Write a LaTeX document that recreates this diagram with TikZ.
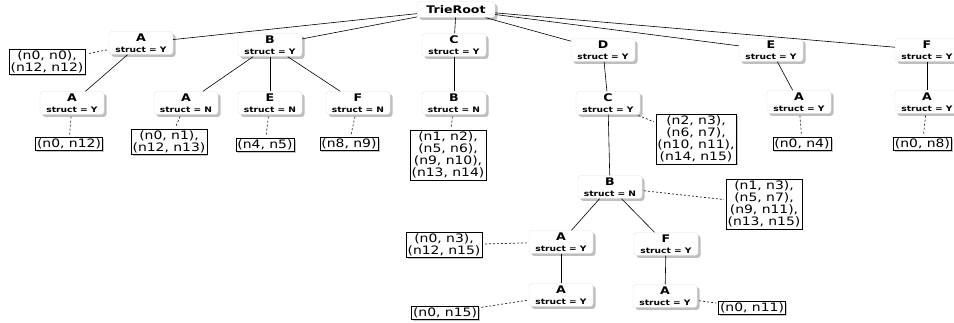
\documentclass[tikz,border=0pt]{standalone}
\usepackage{fontspec}
\setmainfont{DejaVu Sans}[FakeStretch=1.2]
\usetikzlibrary{shadows}
\newcommand{\nd}[2]{{\fontsize{10.5}{10.5}\selectfont\bfseries #1}\\[-1.5pt]{\fontsize{7.6}{8}\selectfont\bfseries struct = #2}}
\tikzset{
  tn/.style={rounded corners=3pt, fill=white, draw=gray!22, minimum width=64pt, minimum height=23pt, inner sep=1pt, align=center,
    drop shadow={shadow xshift=2.5pt, shadow yshift=-2.5pt, fill=gray!50, opacity=1}},
  lf/.style={draw=black, fill=white, line width=0.7pt, inner sep=1.5pt, align=center, font=\fontsize{11.6}{12.2}\selectfont,
    drop shadow={shadow xshift=1.5pt, shadow yshift=-1.5pt, fill=gray!55, opacity=0.8}},
  ed/.style={line width=0.6pt, black},
  dl/.style={line width=0.7pt, black!85, dash pattern=on 2pt off 2pt, shorten >=2pt, shorten <=2pt},
}
\begin{document}
\begin{tikzpicture}[x=1pt, y=-1pt]
\useasboundingbox (0,0) rectangle (954,323);
\clip (0,0) rectangle (954,323);
% nodes
\node[tn, minimum width=78pt, minimum height=16pt] (root) at (456,9.5) {{\fontsize{10.5}{11}\selectfont\bfseries TrieRoot}};
\node[tn] (a1) at (141,43) {\nd{A}{Y}};
\node[tn] (b1) at (270,45) {\nd{B}{Y}};
\node[tn] (c1) at (454,45) {\nd{C}{Y}};
\node[tn] (d1) at (603,50) {\nd{D}{Y}};
\node[tn] (e1) at (771,50) {\nd{E}{Y}};
\node[tn] (f1) at (927,50) {\nd{F}{Y}};
\node[tn] (a2) at (72,103) {\nd{A}{Y}};
\node[tn] (ba) at (186,103) {\nd{A}{N}};
\node[tn] (be) at (270,103) {\nd{E}{N}};
\node[tn] (bf) at (358,103) {\nd{F}{N}};
\node[tn] (cb) at (454,103) {\nd{B}{N}};
\node[tn] (dc) at (608,103) {\nd{C}{Y}};
\node[tn] (ea) at (799,102) {\nd{A}{Y}};
\node[tn] (fa) at (927,102) {\nd{A}{Y}};
\node[tn] (dcb) at (610,187) {\nd{B}{N}};
\node[tn] (ba3) at (561,242) {\nd{A}{Y}};
\node[tn] (bf3) at (666,244) {\nd{F}{Y}};
\node[tn] (aa) at (561,295) {\nd{A}{Y}};
\node[tn] (fa5) at (665,296) {\nd{A}{Y}};
% leaves
\node[lf] (la1) at (47,62) {(n0, n0),\\(n12, n12)};
\node[lf] (la2) at (69,144) {(n0, n12)};
\node[lf] (lba) at (169,142) {(n0, n1),\\(n12, n13)};
\node[lf] (lbe) at (265,145) {(n4, n5)};
\node[lf] (lbf) at (349,144) {(n8, n9)};
\node[lf] (lcb) at (448,155) {(n1, n2),\\(n5, n6),\\(n9, n10),\\(n13, n14)};
\node[lf] (ldc) at (696,139) {(n2, n3),\\(n6, n7),\\(n10, n11),\\(n14, n15)};
\node[lf] (lea) at (802,144) {(n0, n4)};
\node[lf] (lfa) at (922.5,144) {(n0, n8)};
\node[lf] (ldcb) at (764,204) {(n1, n3),\\(n5, n7),\\(n9, n11),\\(n13, n15)};
\node[lf] (lba3) at (444,245) {(n0, n3),\\(n12, n15)};
\node[lf] (laa) at (445,313) {(n0, n15)};
\node[lf] (lfa5) at (752,308) {(n0, n11)};
% solid edges
\foreach \t in {a1,b1,c1,d1,e1,f1} \draw[ed] (root) -- (\t);
\draw[ed] (a1) -- (a2);
\draw[ed] (b1) -- (ba);
\draw[ed] (b1) -- (be);
\draw[ed] (b1) -- (bf);
\draw[ed] (c1) -- (cb);
\draw[ed] (d1) -- (dc);
\draw[ed] (e1) -- (ea);
\draw[ed] (f1) -- (fa);
\draw[ed] (dc) -- (dcb);
\draw[ed] (dcb) -- (ba3);
\draw[ed] (dcb) -- (bf3);
\draw[ed] (ba3) -- (aa);
\draw[ed] (bf3) -- (fa5);
% dashed edges
\draw[dl] (a1) -- (la1);
\draw[dl] (a2) -- (la2);
\draw[dl] (ba) -- (lba);
\draw[dl] (be) -- (lbe);
\draw[dl] (bf) -- (lbf);
\draw[dl] (cb) -- (lcb);
\draw[dl] (dc) -- (ldc);
\draw[dl] (ea) -- (lea);
\draw[dl] (fa) -- (lfa);
\draw[dl] (dcb) -- (ldcb);
\draw[dl] (ba3) -- (lba3);
\draw[dl] (aa) -- (laa);
\draw[dl] (fa5) -- (lfa5);
\end{tikzpicture}
\end{document}
